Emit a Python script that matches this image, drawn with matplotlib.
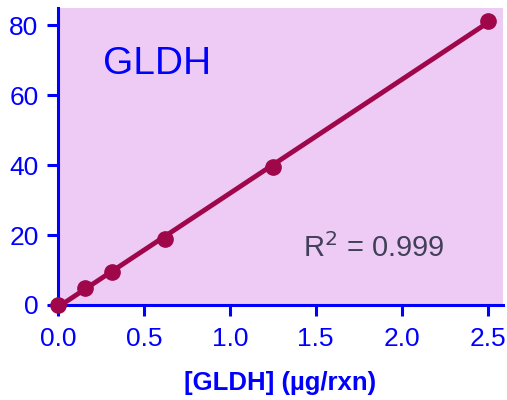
import numpy as np
import matplotlib
matplotlib.use("Agg")
import matplotlib.pyplot as plt

# GLDH standard curve
conc = [0.0, 0.156, 0.3125, 0.625, 1.25, 2.5]
signal = [0.0, 4.9, 9.5, 18.9, 39.6, 81.2]

blue = "#0000ff"
maroon = "#a0064a"
plt.rcParams['font.family'] = ['Liberation Sans', 'DejaVu Sans']

fig = plt.figure(figsize=(5.07, 4.00), dpi=100)
ax = fig.add_axes([58 / 507, 1 - 305 / 400, 445 / 507, 297 / 400])
ax.set_facecolor("#edcbf5")

# linear fit line
k, b = np.polyfit(conc, signal, 1)
xf = np.array([0.0, 2.5])
ax.plot(xf, k * xf + b, color=maroon, lw=3.5, zorder=3, clip_on=False)
ax.plot(conc, signal, "o", color=maroon, ms=11, zorder=4, clip_on=False)

ax.set_xlim(0, 2.59)
ax.set_ylim(0, 85)
ax.set_xticks([0, 0.5, 1.0, 1.5, 2.0, 2.5])
ax.set_xticklabels(["0.0", "0.5", "1.0", "1.5", "2.0", "2.5"])
ax.set_yticks([0, 20, 40, 60, 80])

for s in ["top", "right"]:
    ax.spines[s].set_visible(False)
for s in ["left", "bottom"]:
    ax.spines[s].set_color(blue)
    ax.spines[s].set_linewidth(2.2)
ax.tick_params(colors=blue, labelcolor=blue, labelsize=19, length=8, width=2.2,
               direction="out")
ax.tick_params(axis="x", pad=8)
ax.tick_params(axis="y", pad=6)

ax.set_xlabel("[GLDH] (µg/rxn)", color=blue, fontsize=18.5, fontweight="bold",
              labelpad=14)

ax.text(0.101, 0.778, "GLDH", transform=ax.transAxes, color=blue, fontsize=28,
        va="baseline")
ax.text(0.55, 0.162, "R$^2$ = 0.999", transform=ax.transAxes, color="#404058",
        fontsize=21, va="baseline")

fig.savefig("out.png", dpi=100)
